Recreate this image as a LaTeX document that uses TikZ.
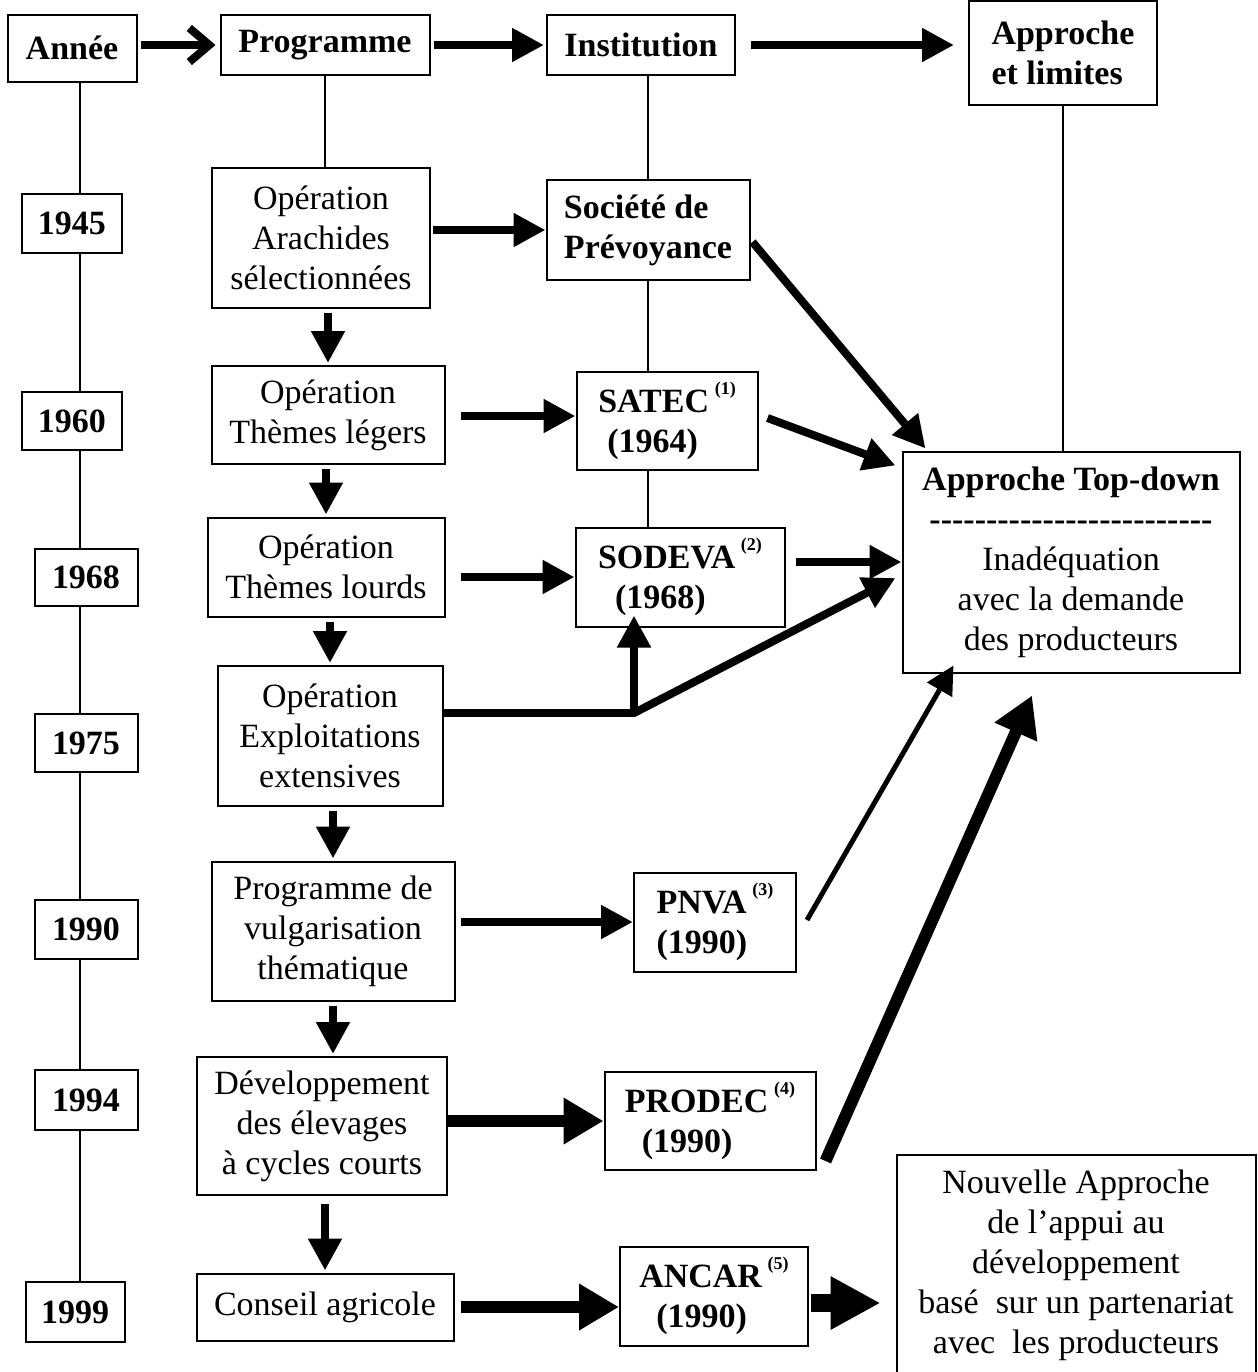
\documentclass[tikz,border=0pt]{standalone}
\usepackage{fontspec}
\setmainfont{Liberation Serif}
\usetikzlibrary{arrows.meta,calc,backgrounds}

\tikzset{
  box/.style={draw, line width=1pt, fill=white, align=center, inner sep=0pt,
    font=\fontsize{17}{20}\selectfont},
  bbox/.style={box, font=\fontsize{17}{20}\selectfont\bfseries},
  link/.style={line width=1pt},
  flow/.style={line width=4pt, -{Triangle[length=16pt,width=16pt]}},
  thinflow/.style={line width=2.5pt, -{Triangle[length=14pt,width=14pt]}},
  heavyflow/.style={line width=6pt, -{Triangle[length=20pt,width=22pt]}},
  hugeflow/.style={line width=9pt, -{Triangle[length=25pt,width=25pt]}},
}
\newcommand{\nref}[1]{\raisebox{0.55em}{\fontsize{9}{9}\selectfont(#1)}}
\newcommand{\dashrow}{\foreach \i in {1,...,25}{-\kern0pt}}

\begin{document}
\begin{tikzpicture}[x=0.5pt, y=-0.5pt]
  \useasboundingbox (0,0) rectangle (1258,1372);
  % header row
  \node [bbox, minimum width=64.5pt, minimum height=33.5pt] (annee) at (72,48) {Année};
  \node [bbox, minimum width=104.5pt, minimum height=30pt] (programme) at (325,45) {Programme};
  \node [bbox, minimum width=94pt, minimum height=30pt] (institution) at (641,45) {Institution};
  \node [bbox, align=left, minimum width=94pt, minimum height=52pt] (approche) at (1063,53) {Approche\\et limites};
  % years
  \node [bbox, minimum width=50pt, minimum height=29.5pt] (y1945) at (72,223) {1945};
  \node [bbox, minimum width=50pt, minimum height=29pt] (y1960) at (72,421) {1960};
  \node [bbox, minimum width=51.5pt, minimum height=28.5pt] (y1968) at (86,577) {1968};
  \node [bbox, minimum width=51.5pt, minimum height=29pt] (y1975) at (86,743) {1975};
  \node [bbox, minimum width=51.5pt, minimum height=29.5pt] (y1990) at (86,929) {1990};
  \node [bbox, minimum width=51.5pt, minimum height=30pt] (y1994) at (86,1100) {1994};
  \node [bbox, minimum width=49.5pt, minimum height=30pt] (y1999) at (75,1312) {1999};
  % programmes
  \node [box, minimum width=109pt, minimum height=70pt] (arachides) at (321,238) {Opération\\Arachides\\sélectionnées};
  \node [box, minimum width=116.5pt, minimum height=49pt] (legers) at (328,415) {Opération\\Thèmes légers};
  \node [box, minimum width=118.5pt, minimum height=49.5pt] (lourds) at (326,567) {Opération\\Thèmes lourds};
  \node [box, minimum width=112.5pt, minimum height=70pt] (exploit) at (330,736) {Opération\\Exploitations\\extensives};
  \node [box, minimum width=121.5pt, minimum height=69.5pt] (vulg) at (333,931) {Programme de\\vulgarisation\\thématique};
  \node [box, minimum width=125pt, minimum height=69pt] (dev) at (322,1126) {Développement\\des élevages\\à cycles courts};
  \node [box, minimum width=128.5pt, minimum height=33.5pt] (conseil) at (325,1307) {Conseil agricole};
  % institutions
  \node [bbox, align=left, minimum width=101.5pt, minimum height=50pt] (societe) at (648,230) {Société de\\Prévoyance};
  \node [bbox, align=left, minimum width=90.5pt, minimum height=49pt] (satec) at (667,421) {SATEC\,\nref{1}\\\hspace*{4.5pt}(1964)};
  \node [bbox, align=left, minimum width=104.5pt, minimum height=49.5pt] (sodeva) at (680,577) {SODEVA\,\nref{2}\\\hspace*{8.5pt}(1968)};
  \node [bbox, align=left, minimum width=81pt, minimum height=49.5pt] (pnva) at (715,922) {PNVA\,\nref{3}\\(1990)};
  \node [bbox, align=left, minimum width=105.5pt, minimum height=49pt] (prodec) at (710,1121) {PRODEC\,\nref{4}\\\hspace*{8.5pt}(1990)};
  \node [bbox, align=left, minimum width=94pt, minimum height=49.5pt] (ancar) at (714,1296) {ANCAR\,\nref{5}\\\hspace*{8.5pt}(1990)};
  % approaches
  \node [box, minimum width=168.5pt, minimum height=110.5pt] (topdown) at (1071,562)
    {\textbf{Approche Top-down}\\\textbf{\dashrow}\\Inadéquation\\avec la demande\\des producteurs};
  \node [box, minimum width=179.5pt, minimum height=110pt] (nouvelle) at (1076,1265)
    {Nouvelle Approche\\de l’appui au\\développement\\basé\ \ sur un partenariat\\avec\ \ les producteurs};

  \coordinate (yearaxis) at (80,0);
  \coordinate (jct) at (634,713);

  % thin guide lines
  \begin{scope}[on background layer]
    \draw [link] (annee.south -| yearaxis) -- (y1999.north -| yearaxis);
    \draw [link] (programme.south) -- (programme.south |- arachides.north);
    \draw [link] (institution.south -| societe.north) -- (societe.north);
    \draw [link] (societe.south) -- (societe.south |- satec.north);
    \draw [link] (satec.south -| societe.south) -- (sodeva.north -| societe.south);
    \draw [link] (approche.south) -- (approche.south |- topdown.north);
  \end{scope}

  % header arrows
  \path
  (annee.east |- programme.west) edge [line width=4pt, -{Straight Barb[length=10pt,width=17pt]}, shorten <=1.5pt, shorten >=2pt] (programme.west)
  (programme.east) edge [flow, shorten <=1.5pt, shorten >=1pt] (institution.west)
  (institution.east) edge [flow, shorten <=7.5pt, shorten >=7pt] (institution.east -| approche.west)
  ;

  % programme sequence
  \path
  (legers.north |- arachides.south) edge [flow, shorten <=2pt, shorten >=1pt] (legers.north)
  (lourds.north |- legers.south) edge [flow, shorten <=2pt, shorten >=1pt] (lourds.north)
  (exploit.north |- lourds.south) edge [flow, shorten <=2pt, shorten >=1pt] (exploit.north)
  (vulg.north |- exploit.south) edge [flow, shorten <=2pt, shorten >=1pt] (vulg.north)
  (vulg.south) edge [flow, shorten <=2pt, shorten >=1pt] (vulg.south |- dev.north)
  (conseil.north |- dev.south) edge [flow, shorten <=4pt, shorten >=1pt] (conseil.north)
  ;

  % programme -> institution
  \path
  (arachides.east |- societe.west) edge [flow, shorten <=1pt] (societe.west)
  ([yshift=2.5pt]legers.east |- satec.west) edge [flow, shorten <=7.5pt] ([yshift=2.5pt]satec.west)
  (lourds.east |- sodeva.west) edge [flow, shorten <=7.5pt] (sodeva.west)
  (vulg.east |- pnva.west) edge [flow, shorten <=2.5pt] (pnva.west)
  (dev.east |- prodec.west) edge [heavyflow] (prodec.west)
  (conseil.east) edge [heavyflow, shorten <=3pt] (conseil.east -| ancar.west)
  ;

  % exploitations branch
  \draw [line width=4pt] (exploit.east |- jct) -- ([xshift=1pt]jct);
  \path
  (jct) edge [flow] ($(sodeva.south -| jct)+(0,-12)$)
  (jct) edge [flow] ($(topdown.west)+(-6,16)$)
  ;

  % institution -> approach
  \path
  ($(societe.east)+(2,12)$) edge [flow] ($(topdown.north west)+(24,-2)$)
  ($(satec.east)+(9,-3)$) edge [flow] ($(topdown.north west)+(-6,15)$)
  (sodeva.east |- topdown.west) edge [flow, shorten <=5pt] (topdown.west)
  ($(pnva.east)+(10,-2)$) edge [thinflow] ($(topdown.south west)+(52,-8)$)
  ($(prodec.south east)+(9,-10)$) edge [heavyflow] ($(topdown.south)+(-39,22)$)
  ([yshift=-3.5pt]ancar.east) edge [hugeflow, shorten <=1pt, shorten >=7.5pt] ([yshift=-3.5pt]ancar.east -| nouvelle.west)
  ;
\end{tikzpicture}
\end{document}
